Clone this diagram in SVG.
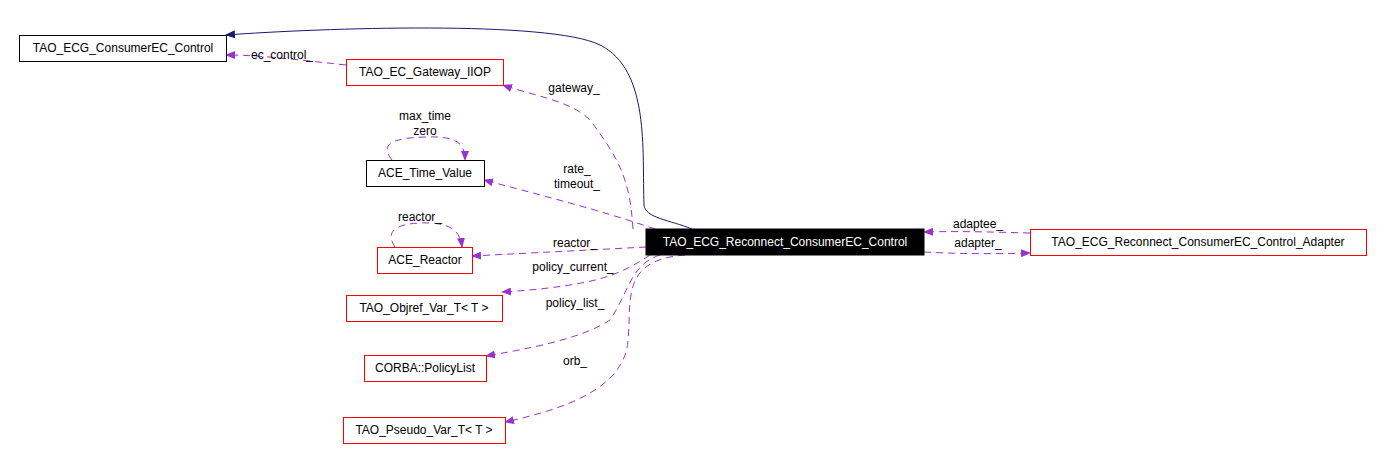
<svg xmlns="http://www.w3.org/2000/svg" width="1384" height="460" viewBox="0 0 1384 460">
<style>
text{font-family:"Liberation Sans",Arial,sans-serif;font-size:12px;fill:#000}
.n{fill:#fff;stroke:#000;stroke-width:1}
.r{fill:#fff;stroke:#f00;stroke-width:1}
.e{fill:none;stroke:#9a32cd;stroke-width:1;stroke-dasharray:7,5}
.b{fill:none;stroke:#191970;stroke-width:1}
</style>
<defs>
<marker id="p" markerWidth="10" markerHeight="8" refX="9" refY="4" orient="auto" markerUnits="userSpaceOnUse"><path d="M0,0L10,4L0,8z" fill="#9a32cd"/></marker>
<marker id="bl" markerWidth="10" markerHeight="8" refX="9" refY="4" orient="auto" markerUnits="userSpaceOnUse"><path d="M0,0L10,4L0,8z" fill="#191970"/></marker>
</defs>
<rect width="1384" height="460" fill="#fff"/>
<g id="connectors">
<path class="b" marker-end="url(#bl)" d="M692,229 C670,220 645,218 644,205 C642,150 650,70 600,45 C550,20 320,28 226,35"/>
<path class="e" marker-end="url(#p)" d="M346,65 C300,60 260,55 226,55"/>
<path class="e" marker-end="url(#p)" d="M633,229 C630,180 620,160 590,120 C570,100 530,95 503,85"/>
<path class="e" marker-end="url(#p)" d="M392,160 C380,145 390,138 425,137 C455,136 465,142 465,160"/>
<path class="e" marker-end="url(#p)" d="M655,229 C600,210 540,195 484,180"/>
<path class="e" marker-end="url(#p)" d="M395,247 C385,232 395,224 420,223 C450,222 460,230 462,247"/>
<path class="e" marker-end="url(#p)" d="M646,247 C590,250 530,253 472,256"/>
<path class="e" marker-end="url(#p)" d="M650,255 C620,275 600,280 570,285 C545,289 520,291 502,292"/>
<path class="e" marker-end="url(#p)" d="M660,255 C630,265 630,290 610,320 C580,340 520,350 486,356"/>
<path class="e" marker-end="url(#p)" d="M685,255 C620,260 632,300 628,340 C625,390 560,410 505,422"/>
<path class="e" marker-end="url(#p)" d="M1030,233 C990,232 960,231 924,232"/>
<path class="e" marker-end="url(#p)" d="M924,252 C960,254 995,254 1030,253"/>
</g>
<g id="ConsumerEC_Control"><rect class="n" x="19.5" y="35.5" width="207" height="26"/><text x="123" y="52" text-anchor="middle">TAO_ECG_ConsumerEC_Control</text></g>
<g id="Gateway"><rect class="r" x="346.5" y="59.5" width="157" height="26"/><text x="425" y="76" text-anchor="middle">TAO_EC_Gateway_IIOP</text></g>
<g id="TimeValue"><rect class="n" x="366.5" y="160.5" width="118" height="26"/><text x="425" y="177" text-anchor="middle">ACE_Time_Value</text></g>
<g id="Reactor"><rect class="r" x="377.5" y="247.5" width="95" height="26"/><text x="425" y="264" text-anchor="middle">ACE_Reactor</text></g>
<g id="Objref"><rect class="r" x="346.5" y="295.5" width="156" height="26"/><text x="424" y="312" text-anchor="middle">TAO_Objref_Var_T&lt; T &gt;</text></g>
<g id="PolicyList"><rect class="r" x="364.5" y="355.5" width="122" height="26"/><text x="425" y="372" text-anchor="middle">CORBA::PolicyList</text></g>
<g id="Pseudo"><rect class="r" x="343.5" y="417.5" width="162" height="26"/><text x="424" y="434" text-anchor="middle">TAO_Pseudo_Var_T&lt; T &gt;</text></g>
<g id="Main"><rect x="646" y="229" width="278" height="26" fill="#000" stroke="#000"/><text x="785" y="246" text-anchor="middle" style="fill:#fff">TAO_ECG_Reconnect_ConsumerEC_Control</text></g>
<g id="Adapter"><rect class="r" x="1030.5" y="229.5" width="336" height="26"/><text x="1198" y="246" text-anchor="middle">TAO_ECG_Reconnect_ConsumerEC_Control_Adapter</text></g>
<g id="labels">
<text x="282" y="59" text-anchor="middle">ec_control_</text>
<text x="574" y="92" text-anchor="middle">gateway_</text>
<text x="425" y="120" text-anchor="middle">max_time</text>
<text x="425" y="135" text-anchor="middle">zero</text>
<text x="577" y="173" text-anchor="middle">rate_</text>
<text x="577" y="188" text-anchor="middle">timeout_</text>
<text x="420" y="221" text-anchor="middle">reactor_</text>
<text x="575" y="247" text-anchor="middle">reactor_</text>
<text x="573" y="271" text-anchor="middle">policy_current_</text>
<text x="575" y="307" text-anchor="middle">policy_list_</text>
<text x="575" y="365" text-anchor="middle">orb_</text>
<text x="978" y="228" text-anchor="middle">adaptee_</text>
<text x="978" y="247" text-anchor="middle">adapter_</text>
</g>
</svg>
